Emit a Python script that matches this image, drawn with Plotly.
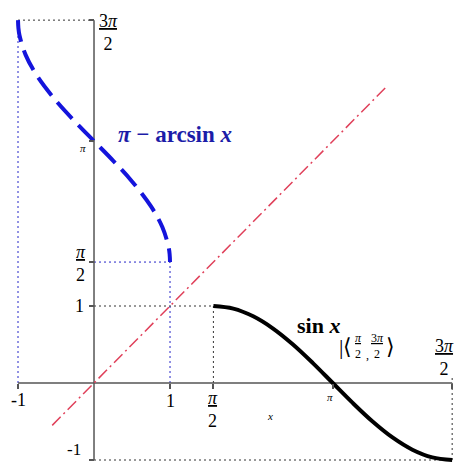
import plotly.graph_objects as go

# pi - arcsin x on [-1, 1]
arc_x = [-1.0, -0.995, -0.98, -0.9, -0.75, -0.5, -0.25, 0.0, 0.25, 0.5, 0.75, 0.9, 0.98, 0.995, 1.0]
arc_y = [4.7124, 4.6122, 4.5121, 4.2614, 3.9897, 3.6652, 3.3943, 3.1416,
         2.8889, 2.6180, 2.2935, 2.0218, 1.7711, 1.6710, 1.5708]

# sin x restricted to [pi/2, 3pi/2]
sin_x = [1.5708, 1.8326, 2.0944, 2.3562, 2.6180, 2.8798, 3.1416,
         3.4034, 3.6652, 3.9270, 4.1888, 4.4506, 4.7124]
sin_y = [1.0, 0.9659, 0.8660, 0.7071, 0.5, 0.2588, 0.0,
         -0.2588, -0.5, -0.7071, -0.8660, -0.9659, -1.0]

# y = x mirror line
diag_x = [-0.55, 3.85]
diag_y = [-0.55, 3.85]

# dotted guides (None splits segments)
blue_guide_x = [-1, -1, None, 0, 1, None, 1, 1]
blue_guide_y = [0, 4.7124, None, 1.5708, 1.5708, None, 0, 1.5708]
black_guide_x = [-1, 0, None, 0, 1.5708, None, 1.5708, 1.5708, None, 0, 4.7124, None, 4.7124, 4.7124]
black_guide_y = [4.7124, 4.7124, None, 1, 1, None, 0, 1, None, -1, -1, None, -1, 0.1]

# axes extents and ticks
axis_min, axis_max = -1, 4.7124
tick_vals = [-1, 1, 1.5708, 3.1416, 4.7124]

X_RANGE = [-1.237, 4.776]
Y_RANGE = [-1.026, 4.974]

SERIF = "Liberation Serif, Times New Roman, serif"
AXIS_GRAY = "#555555"

fig = go.Figure()

dotted = dict(width=1, dash="2px,3px")
fig.add_trace(go.Scatter(x=blue_guide_x, y=blue_guide_y, mode="lines",
                         line=dict(color="#2424c8", **dotted), hoverinfo="skip"))
fig.add_trace(go.Scatter(x=black_guide_x, y=black_guide_y, mode="lines",
                         line=dict(color="#333333", **dotted), hoverinfo="skip"))

# axis lines
fig.add_trace(go.Scatter(x=[axis_min, axis_max], y=[0, 0], mode="lines",
                         line=dict(color=AXIS_GRAY, width=1.5), hoverinfo="skip"))
fig.add_trace(go.Scatter(x=[0, 0], y=[axis_min, axis_max], mode="lines",
                         line=dict(color=AXIS_GRAY, width=1.5), hoverinfo="skip"))

fig.add_trace(go.Scatter(x=diag_x, y=diag_y, mode="lines",
                         line=dict(color="#e0405a", width=1.5, dash="12px,4px,2px,4px")))
fig.add_trace(go.Scatter(x=arc_x, y=arc_y, mode="lines", line_shape="spline",
                         line=dict(color="#1414dc", width=4, dash="22px,9px")))
fig.add_trace(go.Scatter(x=sin_x, y=sin_y, mode="lines", line_shape="spline",
                         line=dict(color="black", width=4)))

x_pos = (0 - Y_RANGE[0]) / (Y_RANGE[1] - Y_RANGE[0])
y_pos = (0 - X_RANGE[0]) / (X_RANGE[1] - X_RANGE[0])

fig.update_layout(
    width=457, height=462,
    margin=dict(l=0, r=0, t=0, b=0),
    paper_bgcolor="white", plot_bgcolor="white",
    showlegend=False,
    xaxis=dict(range=X_RANGE, anchor="free", position=x_pos, showgrid=False,
               zeroline=False, showline=False, tickvals=tick_vals, ticks="outside",
               ticklen=5, tickwidth=1.5, tickcolor=AXIS_GRAY, showticklabels=False),
    yaxis=dict(range=Y_RANGE, anchor="free", position=y_pos, showgrid=False,
               zeroline=False, showline=False, tickvals=tick_vals, ticks="outside",
               ticklen=5, tickwidth=1.5, tickcolor=AXIS_GRAY, showticklabels=False),
)

def label(x, y, text, size=18, color="black", xanchor="center"):
    fig.add_annotation(x=x, y=y, text=text, showarrow=False, xanchor=xanchor,
                       yanchor="middle", font=dict(family=SERIF, size=size, color=color))

# tick labels
label(0.184, 4.558, "<u>3<i>π</i></u><br>2")
label(-0.145, 3.05, "<i>π</i>", size=11)
label(-0.171, 1.558, "<u><i>π</i></u><br>2")
label(-0.197, 1.0, "1")
label(-0.263, -0.87, "-1", size=17)
label(-1.0, -0.221, "-1")
label(1.0, -0.234, "1")
label(1.566, -0.338, "<u><i>π</i></u><br>2")
label(3.105, -0.18, "<i>π</i>", size=11)
label(2.316, -0.43, "<i>x</i>", size=11)
label(4.618, 0.325, "<u>3<i>π</i></u><br>2")

# curve names
label(1.066, 3.221, "<b><i>π</i> − arcsin <i>x</i></b>", size=23, color="#1c1ca8")
label(2.96, 0.75, "<b>sin <i>x</i></b>", size=22)
label(3.31, 0.47, "|⟨", size=22)
label(3.474, 0.48, "<u><i>π</i></u><br>2", size=12)
label(3.6, 0.36, ",", size=12)
label(3.724, 0.48, "<u>3<i>π</i></u><br>2", size=12)
label(3.895, 0.47, "⟩", size=22)

fig.write_html("out.html", config={"displayModeBar": False},
               post_script="document.body.style.margin = '0';")
